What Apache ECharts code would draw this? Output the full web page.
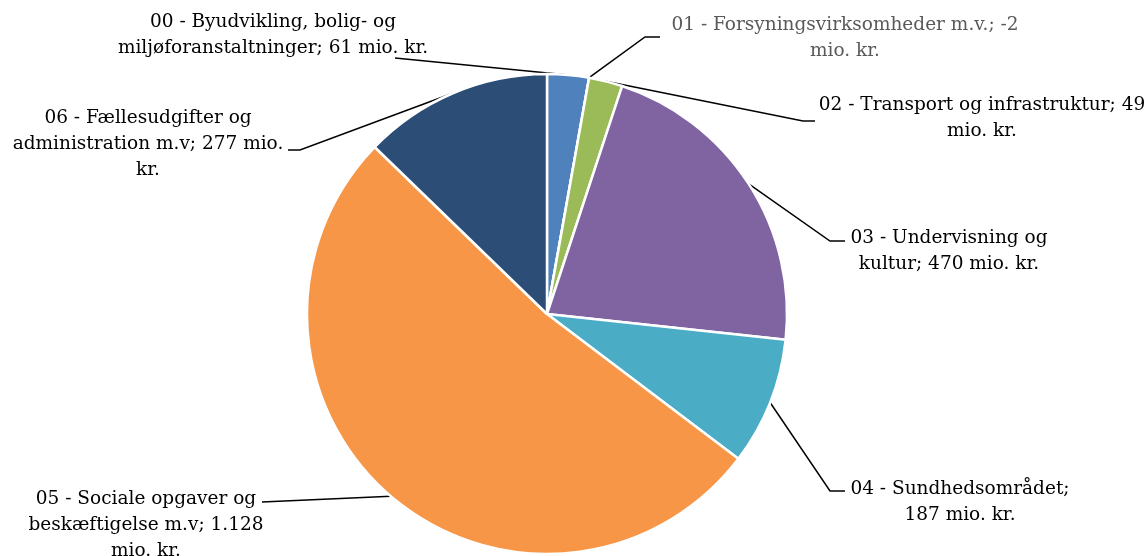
<!DOCTYPE html>
<html>
<head>
<meta charset="utf-8">
<script src="https://cdn.jsdelivr.net/npm/echarts@6/dist/echarts.min.js"></script>
<style>
  html, body { margin: 0; padding: 0; background: #fff; }
  #main { width: 1146px; height: 556px; }
</style>
</head>
<body>
<div id="main"></div>
<script>
// data
var categories = [
  '00 - Byudvikling, bolig- og miljøforanstaltninger',
  '01 - Forsyningsvirksomheder m.v.',
  '02 - Transport og infrastruktur',
  '03 - Undervisning og kultur',
  '04 - Sundhedsområdet',
  '05 - Sociale opgaver og beskæftigelse m.v',
  '06 - Fællesudgifter og administration m.v'
];
var values = [61, -2, 49, 470, 187, 1128, 277];
var colors = ['#4F81BD', '#7F7F7F', '#9BBB59', '#8064A2', '#4BACC6', '#F79646', '#2C4D75'];

// label text as wrapped in the reference
var labelLines = [
  ['00 - Byudvikling, bolig- og', 'miljøforanstaltninger; 61 mio. kr.'],
  ['01 - Forsyningsvirksomheder m.v.; -2', 'mio. kr.'],
  ['02 - Transport og infrastruktur; 49', 'mio. kr.'],
  ['03 - Undervisning og', 'kultur; 470 mio. kr.'],
  ['04 - Sundhedsområdet;', '187 mio. kr.'],
  ['05 - Sociale opgaver og', 'beskæftigelse m.v; 1.128', 'mio. kr.'],
  ['06 - Fællesudgifter og', 'administration m.v; 277 mio.', 'kr.']
];

// label layout (centre of each text block) and leader line ends
var labelCenter = [[273, 35], [845, 38], [982, 118], [949, 251], [960, 502], [146, 525], [148, 144]];
var lineEnd = [[122, 23], [-185, -1], [-167, 3], [-104, -10], [-115, -11], [116, -23], [140, 6]];
var elbow = [0, -15, -12, -15, -15, 0, 12];

var pieData = [];
for (var i = 0; i < values.length; i++) {
  pieData.push({
    name: categories[i],
    value: Math.max(values[i], 0),
    itemStyle: { color: colors[i] },
    label: { color: values[i] < 0 ? '#595959' : '#000' }
  });
}

var myChart = echarts.init(document.getElementById('main'));
var option = {
  animation: false,
  series: [{
    type: 'pie',
    center: [547, 314],
    radius: 240,
    startAngle: 90,
    clockwise: true,
    avoidLabelOverlap: false,
    minShowLabelAngle: 0,
    data: pieData,
    itemStyle: { borderColor: '#fff', borderWidth: 2.5 },
    label: {
      show: true,
      position: 'outside',
      fontFamily: '"Palatino Linotype", "Book Antiqua", Palatino, "DejaVu Serif", serif',
      fontSize: 18.5,
      lineHeight: 26,
      align: 'center',
      formatter: function (p) { return labelLines[p.dataIndex].join('\n'); }
    },
    labelLine: {
      show: true,
      length: 20,
      length2: 10,
      lineStyle: { color: '#000', width: 1.5 }
    },
    labelLayout: function (params) {
      var i = params.dataIndex;
      var c = labelCenter[i];
      var start = params.labelLinePoints ? params.labelLinePoints[0] : [c[0], c[1]];
      var end = [c[0] + lineEnd[i][0], c[1] + lineEnd[i][1]];
      var mid = [end[0] + elbow[i], end[1]];
      return {
        x: c[0],
        y: c[1],
        align: 'center',
        verticalAlign: 'middle',
        hideOverlap: false,
        labelLinePoints: [start, mid, end]
      };
    },
    emphasis: { disabled: true }
  }]
};
myChart.setOption(option);
window.addEventListener('resize', function () {
  myChart.resize();
});
</script>
</body>
</html>
